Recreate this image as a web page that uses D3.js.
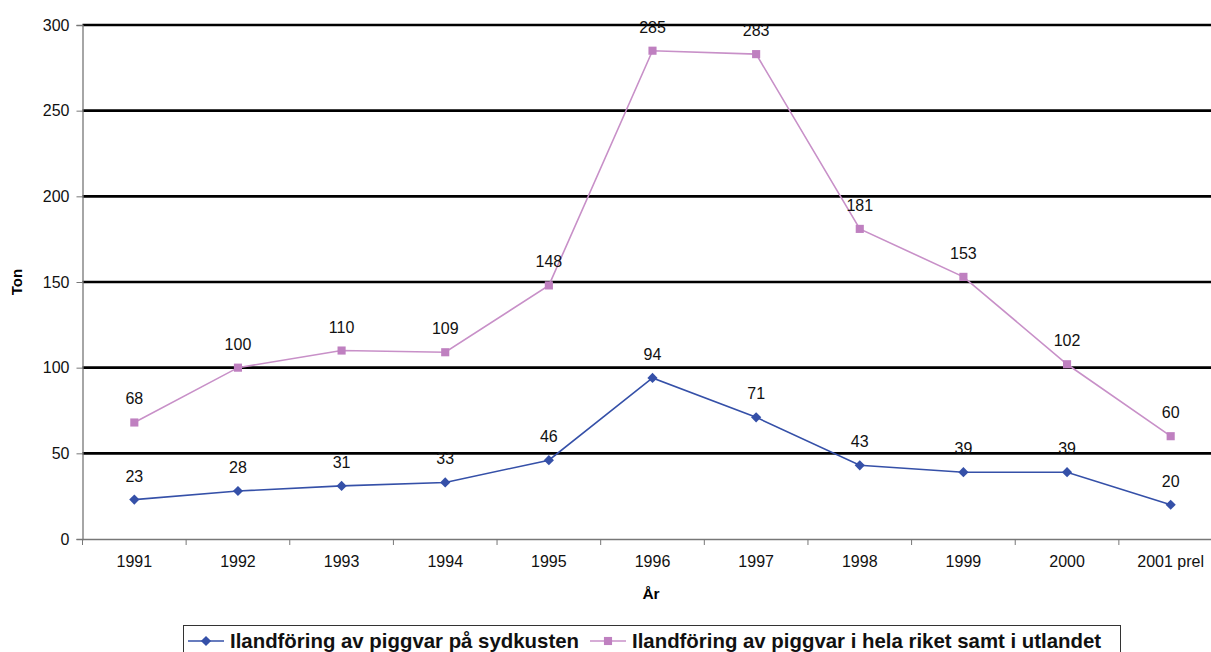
<!DOCTYPE html>
<html><head><meta charset="utf-8">
<script src="https://cdn.jsdelivr.net/npm/d3@7"></script>
<style>body{margin:0;background:#fff;overflow:hidden}svg{display:block}</style>
</head><body><svg id="c" width="1211" height="652"></svg>
<script>
const categories = ["1991","1992","1993","1994","1995","1996","1997","1998","1999","2000","2001 prel"];
const sydkusten = [23,28,31,33,46,94,71,43,39,39,20];
const helaRiket = [68,100,110,109,148,285,283,181,153,102,60];
const yTicks = [0,50,100,150,200,250,300];
const seriesNames = ["Ilandföring av piggvar på sydkusten","Ilandföring av piggvar i hela riket samt i utlandet"];

const svg = d3.select("#c");
const font = "'Liberation Sans', Arial, sans-serif";
const L = 82.5, R = 1222.5, T = 25, B = 539;
const x = d3.scaleBand().domain(categories).range([L, R]);
const y = d3.scaleLinear().domain([0,300]).range([B, T]);

// gridlines
svg.append("g").selectAll("line").data(yTicks.filter(d=>d>0)).join("line")
  .attr("x1", L).attr("x2", R).attr("y1", d=>y(d)).attr("y2", d=>y(d))
  .attr("stroke", "#000").attr("stroke-width", 2.6);

// y axis
const ya = svg.append("g").attr("transform", `translate(${L},0)`)
  .call(d3.axisLeft(y).tickValues(yTicks).tickSize(6).tickPadding(7));
ya.select(".domain").attr("stroke", "#777").attr("stroke-width", 1.3);
ya.selectAll(".tick line").attr("stroke", "#777");
ya.selectAll("text").attr("font-family", font).attr("font-size", 16).attr("fill", "#111");

// x axis
const xa = svg.append("g").attr("transform", `translate(0,${B})`)
  .call(d3.axisBottom(x).tickSize(0).tickPadding(17));
xa.select(".domain").attr("stroke", "#777").attr("stroke-width", 1.3);
xa.selectAll("text").attr("font-family", font).attr("font-size", 16).attr("fill", "#111");
svg.append("g").selectAll("line").data(d3.range(categories.length+1)).join("line")
  .attr("x1", i=>L + i*x.step()).attr("x2", i=>L + i*x.step())
  .attr("y1", B).attr("y2", B+6).attr("stroke", "#777").attr("stroke-width", 1);

// axis titles
svg.append("text").attr("transform", `translate(22,${(T+B)/2}) rotate(-90)`)
  .attr("text-anchor","middle").attr("font-family", font).attr("font-weight","bold")
  .attr("font-size", 15).text("Ton");
svg.append("text").attr("x", 651).attr("y", 599).attr("text-anchor","middle")
  .attr("font-family", font).attr("font-weight","bold").attr("font-size", 15.5).text("År");

const cx = d => x(d) + x.bandwidth()/2;
const diamondPath = d3.symbol().type(d3.symbolSquare).size(52)();
const squarePath = d3.symbol().type(d3.symbolSquare).size(66)();
const series = [
  {vals: sydkusten, color: "#3550A8", mcolor: "#3550A8", marker: "diamond"},
  {vals: helaRiket, color: "#C890C8", mcolor: "#BF80C0", marker: "square"}
];

series.forEach(s => {
  const line = d3.line().x((d,i)=>cx(categories[i])).y(d=>y(d));
  svg.append("path").datum(s.vals).attr("d", line).attr("fill","none")
    .attr("stroke", s.color).attr("stroke-width", 1.6);
  svg.append("g").selectAll("path").data(s.vals).join("path")
    .attr("transform", (d,i)=>`translate(${cx(categories[i])},${y(d)})` + (s.marker==="diamond" ? " rotate(45)" : ""))
    .attr("d", s.marker==="diamond" ? diamondPath : squarePath)
    .attr("fill", s.mcolor);
  svg.append("g").selectAll("text").data(s.vals).join("text")
    .attr("x", (d,i)=>cx(categories[i])).attr("y", d=>y(d)-18)
    .attr("text-anchor","middle").attr("font-family", font).attr("font-size", 16)
    .attr("fill","#111").text(d=>d);
});

// legend
const lg = svg.append("g");
lg.append("rect").attr("x", 183.5).attr("y", 625.5).attr("width", 937).attr("height", 40)
  .attr("fill","#fff").attr("stroke","#333").attr("stroke-width",1);
const items = [
  {x0: 188, color:"#3550A8", mcolor:"#3550A8", m:"diamond"},
  {x0: 590, color:"#C890C8", mcolor:"#BF80C0", m:"square"}
];
items.forEach((it,i)=>{
  lg.append("line").attr("x1", it.x0).attr("x2", it.x0+36).attr("y1", 641).attr("y2", 641)
    .attr("stroke", it.color).attr("stroke-width", 1.6);
  lg.append("path").attr("transform", `translate(${it.x0+18},641)` + (it.m==="diamond" ? " rotate(45)" : ""))
    .attr("d", it.m==="diamond" ? diamondPath : squarePath)
    .attr("fill", it.mcolor);
  lg.append("text").attr("x", it.x0+42).attr("y", 648).attr("font-family", font)
    .attr("font-weight","bold").attr("font-size", 20.4).attr("fill","#111").text(seriesNames[i]);
});
</script></body></html>
